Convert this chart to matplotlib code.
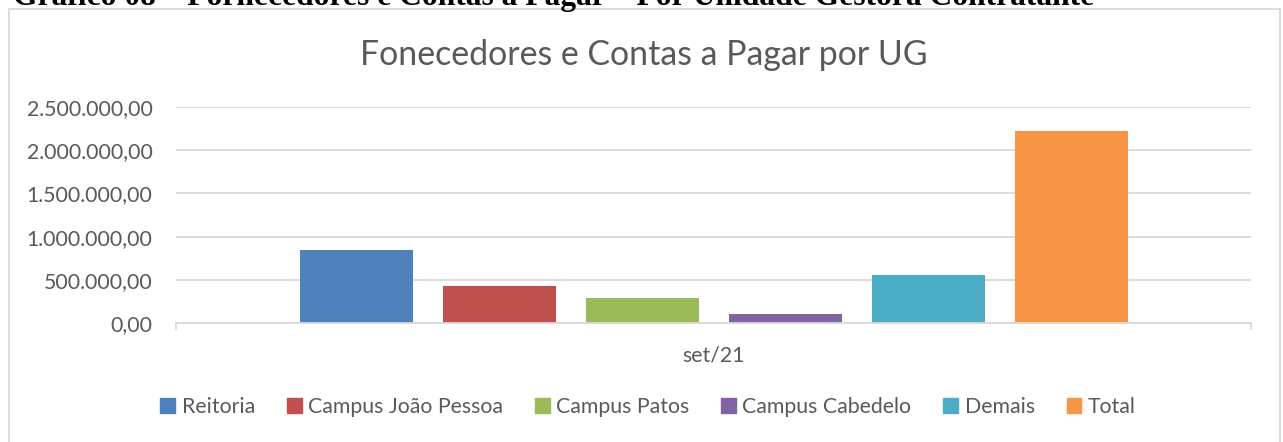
import matplotlib
matplotlib.use("Agg")
import matplotlib.pyplot as plt
import matplotlib.patches as mpatches
from matplotlib.ticker import FuncFormatter, FixedLocator

# ---- data ----
categories = ["set/21"]
series_names = ["Reitoria", "Campus João Pessoa", "Campus Patos", "Campus Cabedelo", "Demais", "Total"]
series_values = [845000, 428000, 289000, 104000, 556000, 2222000]
series_colors = ["#4F81BD", "#C0504D", "#9BBB59", "#8064A2", "#4BACC6", "#F79646"]
y_ticks = [0, 500000, 1000000, 1500000, 2000000, 2500000]

W, H = 1283, 442
FONT = "Lato"
TXT = "#595959"
GRID = "#D9D9D9"
FS = 15.3

fig = plt.figure(figsize=(W / 100, H / 100), dpi=100)
fig.patch.set_facecolor("white")

# chart border (outer frame)
fig.patches.append(mpatches.Rectangle((9 / W, -0.05), (1280 - 9) / W, (H - 9) / H + 0.05,
                                      transform=fig.transFigure, fill=False,
                                      edgecolor=GRID, linewidth=1.3, zorder=0))

# clipped heading at very top (cut off in the reference too)
fig.text(13 / W, 1 - 4.5 / H,
         "Gráfico 08 – Fornecedores e Contas a Pagar – Por Unidade Gestora Contratante",
         ha="left", va="baseline", fontfamily="Liberation Serif", fontweight="bold",
         fontsize=22.7, color="black")

ax = fig.add_axes([176 / W, (H - 323) / H, (1251 - 176) / W, (323 - 107) / H])
ax.set_facecolor("none")

n = len(series_names)
step = 143 / 1075
width = 113 / 1075
for i, (name, val, col) in enumerate(zip(series_names, series_values, series_colors)):
    ax.bar(0 + (i - (n - 1) / 2) * step, [val], width=width, color=col, label=name, zorder=3)

ax.set_xlim(-0.5, 0.5)
ax.set_ylim(0, 2500000)
ax.yaxis.set_major_locator(FixedLocator(y_ticks))

def fmt(v, pos):
    s = f"{v:,.2f}"
    return s.replace(",", "X").replace(".", ",").replace("X", ".")

ax.yaxis.set_major_formatter(FuncFormatter(fmt))
ax.set_xticks([0])
ax.set_xticklabels(categories)
ax.set_xticks([-0.5, 0.5], minor=True)

ax.grid(axis="y", color=GRID, linewidth=1.3, zorder=0)
for s in ["top", "right", "left"]:
    ax.spines[s].set_visible(False)
ax.spines["bottom"].set_color(GRID)
ax.spines["bottom"].set_linewidth(1.3)
ax.spines["bottom"].set_zorder(4)

ax.tick_params(axis="y", length=0, pad=17, labelsize=FS, labelcolor=TXT)
ax.tick_params(axis="x", which="major", length=0, pad=16, labelsize=FS, labelcolor=TXT)
ax.tick_params(axis="x", which="minor", length=5, width=1.3, color=GRID, direction="out")
for lab in ax.get_yticklabels() + ax.get_xticklabels():
    lab.set_fontfamily(FONT)

fig.text(644 / W, 1 - 55 / H, "Fonecedores e Contas a Pagar por UG", ha="center", va="center",
         fontfamily=FONT, fontsize=24.4, color=TXT)

handles = [mpatches.Patch(color=c, label=nm) for nm, c in zip(series_names, series_colors)]
leg = fig.legend(handles=handles, loc="center", bbox_to_anchor=(648 / W, (H - 407) / H),
                 ncol=n, frameon=False, handlelength=0.7, handleheight=0.7,
                 handletextpad=0.3, columnspacing=1.5,
                 prop={"family": FONT, "size": FS})
for t in leg.get_texts():
    t.set_color(TXT)

fig.savefig("out.png", dpi=100, facecolor="white")
